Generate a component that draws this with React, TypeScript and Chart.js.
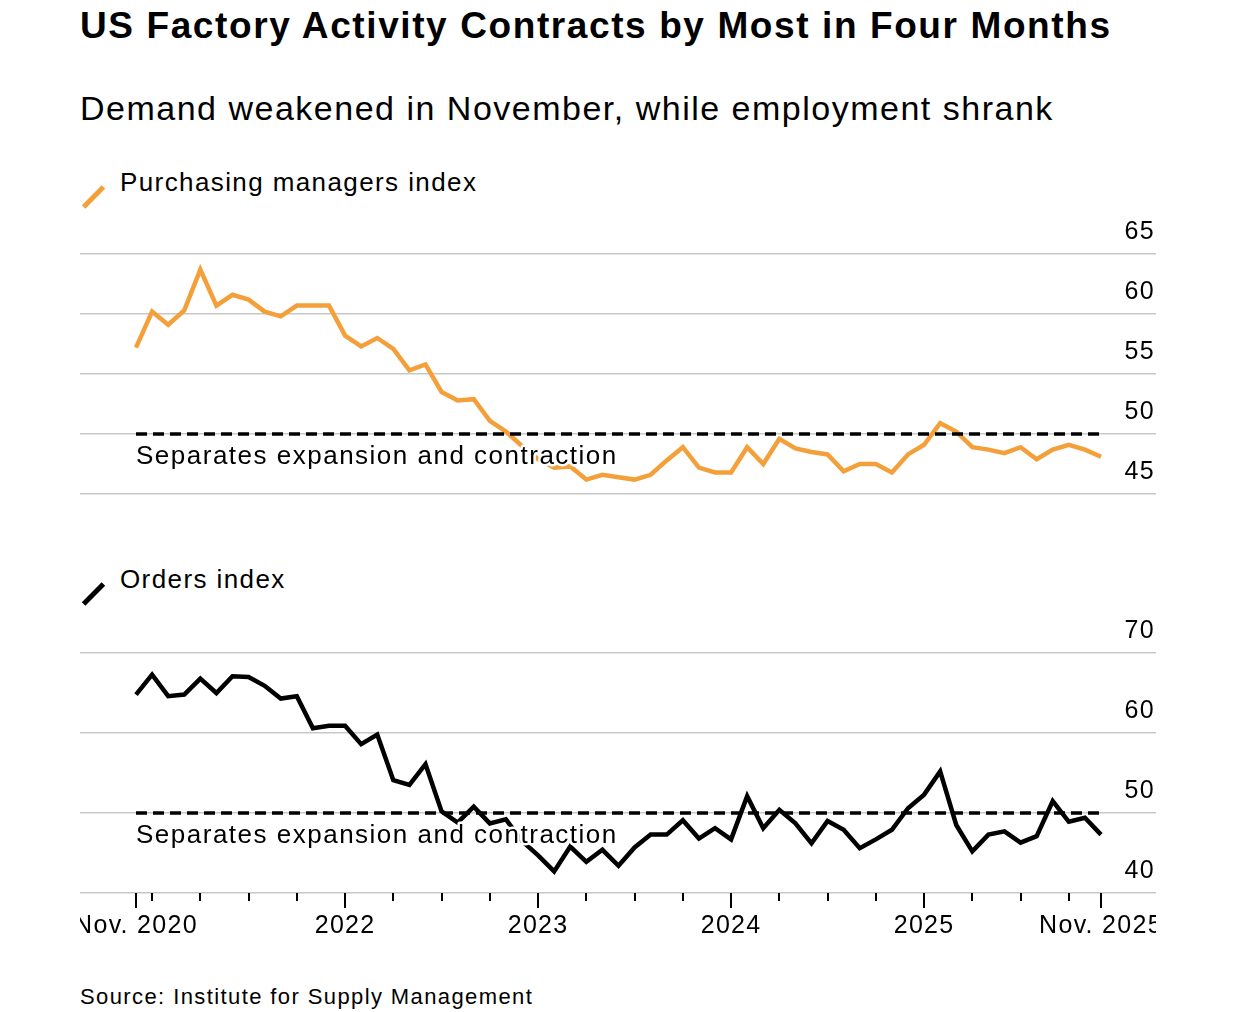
import React, { useEffect, useRef } from "react";
import { Chart, registerables } from "chart.js";

Chart.register(...registerables);

const FONT = '"Liberation Sans", Arial, Helvetica, sans-serif';
const ORANGE = "#f4a03a";
const GRID = "#c8c8c8";

// Monthly values, Nov 2020 (index 0) .. Nov 2025 (index 60)
const pmiValues = [
  57.2, 60.2, 59.1, 60.3, 63.7, 60.7, 61.6, 61.2, 60.2, 59.8,
  60.7, 60.7, 60.7, 58.2, 57.3, 58.0, 57.1, 55.3, 55.8, 53.5,
  52.8, 52.9, 51.1, 50.2, 49.0, 47.9, 47.2, 47.3, 46.2, 46.6,
  46.4, 46.2, 46.6, 47.8, 48.9, 47.2, 46.8, 46.8, 48.9, 47.5,
  49.6, 48.8, 48.5, 48.3, 46.9, 47.5, 47.5, 46.8, 48.3, 49.1,
  50.9, 50.2, 48.9, 48.7, 48.4, 48.9, 47.9, 48.7, 49.1, 48.7, 48.1,
];

const ordersValues = [
  64.8, 67.3, 64.6, 64.8, 66.8, 65.0, 67.1, 67.0, 65.9, 64.3,
  64.6, 60.6, 60.9, 60.9, 58.6, 59.8, 54.1, 53.5, 56.1, 50.2,
  48.8, 50.8, 48.7, 49.2, 46.5, 44.7, 42.7, 45.8, 43.9, 45.4,
  43.4, 45.7, 47.3, 47.3, 49.1, 46.8, 48.1, 46.7, 52.1, 48.1,
  50.4, 48.7, 46.2, 49.0, 47.9, 45.6, 46.7, 47.9, 50.6, 52.3,
  55.2, 48.5, 45.2, 47.3, 47.7, 46.3, 47.1, 51.5, 48.9, 49.4, 47.3,
];

const thresholdValue = 50;
const thresholdStart = 0;
const thresholdEnd = 60;
const thresholdLabel = "Separates expansion and contraction";

const pmiTicks = [45, 50, 55, 60, 65];
const ordersTicks = [40, 50, 60, 70];

const xMajorTicks = [0, 13, 25, 37, 49, 60];
const xMajorLabels = ["Nov. 2020", "2022", "2023", "2024", "2025", "Nov. 2025"];
const xMinorTicks = [1, 4, 7, 10, 16, 19, 22, 28, 31, 34, 40, 43, 46, 52, 55, 58];

const X_MIN = -3.482;
const X_MAX = 63.42;

type PanelProps = {
  values: number[];
  color: string;
  yMin: number;
  yMax: number;
  yTicks: number[];
  showX: boolean;
  top: number;
  height: number;
  padTop: number;
  padBottom: number;
};

function Panel(props: PanelProps) {
  const ref = useRef<HTMLCanvasElement>(null);
  useEffect(() => {
    const canvas = ref.current!;
    const { values, color, yMin, yMax, yTicks, showX, padTop, padBottom } = props;
    const overlay = {
      id: "overlay",
      afterDatasetsDraw(chart: any) {
        const ctx = chart.ctx as CanvasRenderingContext2D;
        const xs = chart.scales.x;
        const ys = chart.scales.y;
        const area = chart.chartArea;
        ctx.save();
        // threshold label with white halo
        ctx.font = `26px ${FONT}`;
        (ctx as any).letterSpacing = "1.5px";
        ctx.textAlign = "left";
        ctx.textBaseline = "alphabetic";
        const lx = xs.getPixelForValue(thresholdStart);
        const ly = ys.getPixelForValue(thresholdValue) + 30;
        ctx.lineJoin = "round";
        ctx.strokeStyle = "#ffffff";
        ctx.lineWidth = 5;
        ctx.strokeText(thresholdLabel, lx, ly);
        ctx.fillStyle = "#000000";
        ctx.fillText(thresholdLabel, lx, ly);

        // y labels
        ctx.font = `25px ${FONT}`;
        (ctx as any).letterSpacing = "1.3px";
        ctx.textAlign = "right";
        ctx.textBaseline = "middle";
        for (const v of yTicks) {
          ctx.fillText(String(v), area.right - 1, ys.getPixelForValue(v) - 22);
        }

        if (showX) {
          ctx.strokeStyle = "#000000";
          ctx.lineWidth = 2;
          const base = area.bottom;
          for (const t of xMinorTicks) {
            const px = Math.round(xs.getPixelForValue(t));
            ctx.beginPath();
            ctx.moveTo(px, base);
            ctx.lineTo(px, base + 8);
            ctx.stroke();
          }
          for (const t of xMajorTicks) {
            const px = Math.round(xs.getPixelForValue(t));
            ctx.beginPath();
            ctx.moveTo(px, base);
            ctx.lineTo(px, base + 15);
            ctx.stroke();
          }
          ctx.font = `25px ${FONT}`;
          (ctx as any).letterSpacing = "1.3px";
          ctx.textAlign = "center";
          ctx.textBaseline = "middle";
          xMajorTicks.forEach((t, k) => {
            ctx.fillText(xMajorLabels[k], xs.getPixelForValue(t), base + 33);
          });
        }
        ctx.restore();
      },
    };

    const chart = new Chart(canvas, {
      type: "line",
      data: {
        datasets: [
          {
            data: [
              { x: thresholdStart, y: thresholdValue },
              { x: thresholdEnd, y: thresholdValue },
            ],
            borderColor: "#000000",
            borderWidth: 3.5,
            borderDash: [11, 6],
            pointRadius: 0,
          },
          {
            data: values.map((v, i) => ({ x: i, y: v })),
            borderColor: color,
            borderWidth: 4.5,
            pointRadius: 0,
            tension: 0,
            borderJoinStyle: "miter",
          } as any,
        ],
      },
      options: {
        animation: false,
        responsive: false,
        events: [],
        layout: {
          padding: { top: padTop, bottom: padBottom, left: 0, right: 0 },
          autoPadding: false,
        } as any,
        plugins: { legend: { display: false }, tooltip: { enabled: false } },
        scales: {
          x: { type: "linear", min: X_MIN, max: X_MAX, display: false },
          y: {
            type: "linear",
            min: yMin,
            max: yMax,
            afterBuildTicks: (s: any) => {
              s.ticks = yTicks.map((v) => ({ value: v }));
            },
            ticks: { display: false },
            grid: { color: GRID, lineWidth: 1.5, drawTicks: false },
            border: { display: false },
          },
        },
      },
      plugins: [overlay],
    });
    return () => chart.destroy();
  }, []);

  return (
    <canvas
      ref={ref}
      width={1076}
      height={props.height}
      style={{ position: "absolute", left: 80, top: props.top, width: 1076, height: props.height }}
    />
  );
}

function LegendItem({ color, label, top }: { color: string; label: string; top: number }) {
  return (
    <>
      <div
        style={{
          position: "absolute",
          left: 90.5,
          top: top + 14,
          width: 5,
          height: 28,
          background: color,
          transform: "rotate(45deg)",
        }}
      />
      <div
        style={{
          position: "absolute",
          left: 120,
          top: top,
          fontSize: 26,
          lineHeight: "26px",
          letterSpacing: "1.4px",
          whiteSpace: "nowrap",
          color: "#000",
        }}
      >
        {label}
      </div>
    </>
  );
}

export default function App() {
  return (
    <div
      style={{
        position: "absolute",
        left: 0,
        top: 0,
        width: 1236,
        height: 1012,
        background: "#ffffff",
        fontFamily: FONT,
        color: "#000",
        overflow: "hidden",
      }}
    >
      <div
        style={{
          position: "absolute",
          left: 80,
          top: 7,
          fontSize: 37,
          lineHeight: "37px",
          fontWeight: 700,
          letterSpacing: "1.6px",
          whiteSpace: "nowrap",
        }}
      >
        US Factory Activity Contracts by Most in Four Months
      </div>
      <div
        style={{
          position: "absolute",
          left: 80,
          top: 91,
          fontSize: 34,
          lineHeight: "34px",
          letterSpacing: "1.5px",
          whiteSpace: "nowrap",
        }}
      >
        Demand weakened in November, while employment shrank
      </div>

      <LegendItem color={ORANGE} label="Purchasing managers index" top={169} />
      <Panel
        values={pmiValues}
        color={ORANGE}
        yMin={45}
        yMax={65}
        yTicks={pmiTicks}
        showX={false}
        top={200}
        height={310}
        padTop={54}
        padBottom={16}
      />

      <LegendItem color="#000000" label="Orders index" top={566} />
      <Panel
        values={ordersValues}
        color="#000000"
        yMin={40}
        yMax={70}
        yTicks={ordersTicks}
        showX={true}
        top={600}
        height={370}
        padTop={53}
        padBottom={77}
      />

      <div
        style={{
          position: "absolute",
          left: 80,
          top: 986,
          fontSize: 22,
          lineHeight: "22px",
          letterSpacing: "1.4px",
          whiteSpace: "nowrap",
        }}
      >
        Source: Institute for Supply Management
      </div>
    </div>
  );
}
